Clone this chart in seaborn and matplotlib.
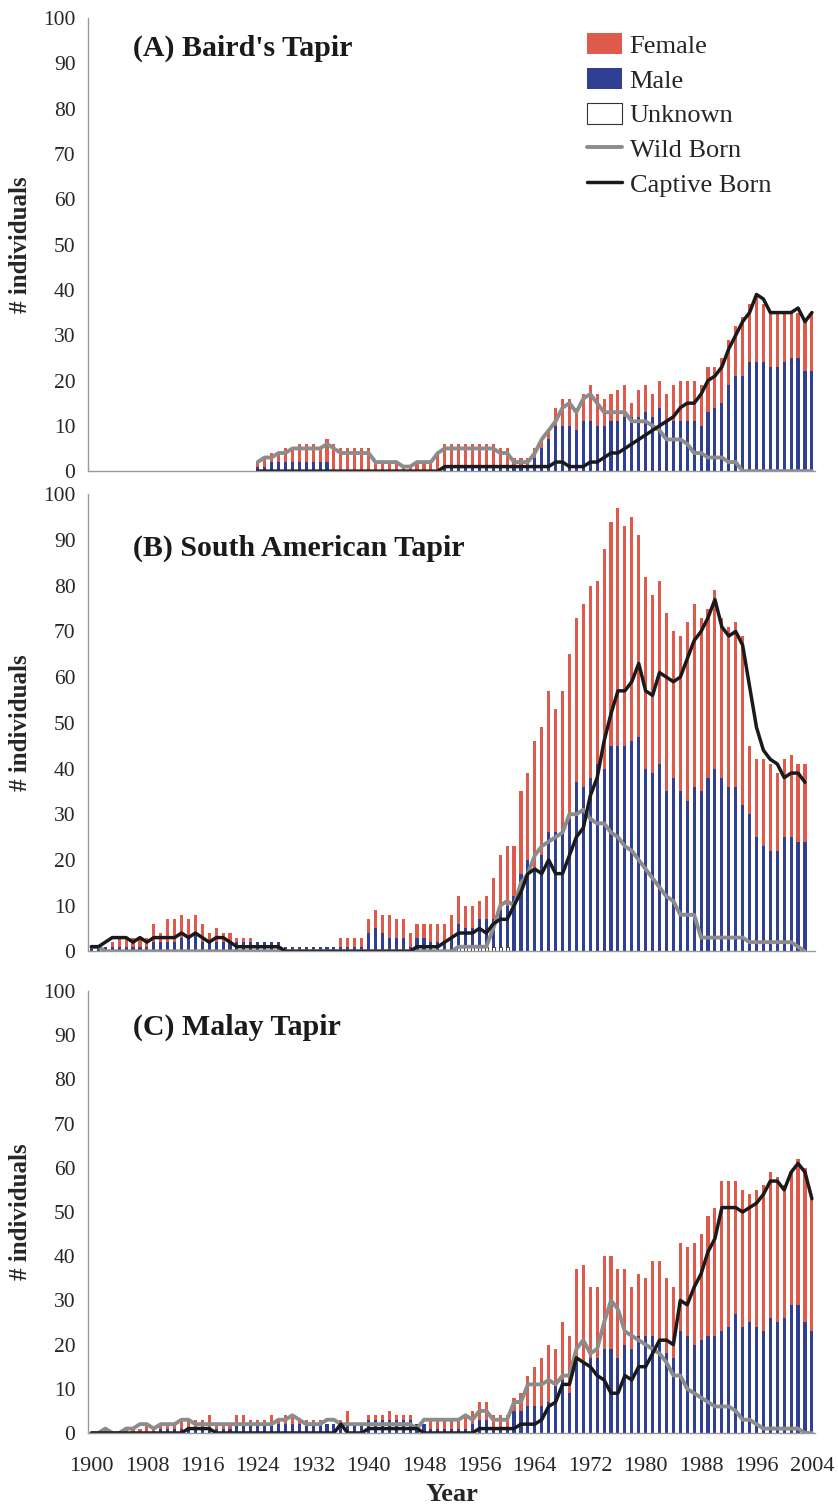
import numpy as np
import pandas as pd
import matplotlib.pyplot as plt
from matplotlib.patches import Patch
from matplotlib.lines import Line2D
import seaborn as sns

sns.set_style("white")
plt.rcParams['font.family'] = ['Liberation Serif', 'DejaVu Serif']

nan = np.nan
years = list(range(1900, 2005))

# ---- (A) Baird's tapir ----
a_total = ([0] * 20 +
           [0, 0, 0, 0, 2, 3, 4, 4, 5, 5] +
           [6, 6, 6, 5, 7, 6, 5, 5, 5, 5] +
           [5, 2, 2, 2, 2, 1, 1, 2, 2, 2] +
           [4, 6, 6, 6, 6, 6, 6, 6, 6, 5] +
           [5, 3, 3, 3, 5, 7, 9, 14, 16, 16] +
           [14, 17, 19, 17, 16, 17, 18, 19, 15, 18] +
           [19, 17, 20, 17, 19, 20, 20, 20, 19, 23] +
           [23, 25, 29, 32, 34, 37, 39, 37, 35, 35] +
           [35, 35, 35, 33, 35])
a_male = ([0] * 20 +
          [0, 0, 0, 0, 1, 1, 2, 2, 2, 2] +
          [2, 2, 2, 2, 2, 0, 0, 0, 0, 0] +
          [0] * 10 +
          [0, 1, 1, 1, 1, 1, 1, 1, 1, 1] +
          [1, 1, 1, 1, 3, 5, 7, 10, 10, 10] +
          [9, 11, 11, 10, 10, 11, 11, 12, 12, 12] +
          [13, 12, 14, 11, 11, 11, 11, 11, 10, 13] +
          [14, 15, 19, 21, 21, 24, 24, 24, 23, 23] +
          [24, 25, 25, 22, 22])
a_unknown = [0] * 105
a_wild = ([nan] * 24 +
          [2, 3, 3, 4, 4, 5] +
          [5, 5, 5, 5, 6, 5, 4, 4, 4, 4] +
          [4, 2, 2, 2, 2, 1, 1, 2, 2, 2] +
          [4, 5, 5, 5, 5, 5, 5, 5, 5, 4] +
          [4, 2, 2, 2, 4, 7, 9, 11, 14, 15] +
          [13, 16, 17, 15, 13, 13, 13, 13, 11, 11] +
          [11, 10, 9, 7, 7, 7, 6, 4, 4, 3] +
          [3, 3, 2, 2, 0, 0, 0, 0, 0, 0] +
          [0, 0, 0, 0, 0])
a_captive = ([nan] * 24 +
             [0] * 26 +
             [0, 1, 1, 1, 1, 1, 1, 1, 1, 1] +
             [1, 1, 1, 1, 1, 1, 1, 2, 2, 1] +
             [1, 1, 2, 2, 3, 4, 4, 5, 6, 7] +
             [8, 9, 10, 11, 12, 14, 15, 15, 17, 20] +
             [21, 23, 27, 30, 33, 35, 39, 38, 35, 35] +
             [35, 35, 36, 33, 35])

# ---- (B) South American tapir ----
b_total = ([1, 1, 1, 2, 3, 3, 3, 3, 3, 6] +
           [4, 7, 7, 8, 7, 8, 6, 4, 5, 4] +
           [4, 3, 3, 3, 2, 2, 2, 2, 1, 1] +
           [1, 1, 1, 1, 1, 1, 3, 3, 3, 3] +
           [7, 9, 8, 8, 7, 7, 4, 6, 6, 6] +
           [6, 6, 8, 12, 10, 10, 11, 12, 16, 21] +
           [23, 23, 35, 39, 46, 49, 57, 53, 57, 65] +
           [73, 76, 80, 81, 88, 94, 97, 93, 95, 91] +
           [82, 78, 81, 74, 70, 69, 72, 76, 73, 75] +
           [79, 73, 71, 72, 69, 45, 42, 42, 41, 39] +
           [42, 43, 41, 41, nan])
b_male = ([1, 1, 1, 1, 1, 1, 1, 1, 1, 2] +
          [2, 2, 2, 3, 3, 4, 2, 2, 2, 2] +
          [2, 2, 2, 2, 2, 2, 2, 2, 1, 1] +
          [1] * 10 +
          [4, 5, 4, 3, 3, 3, 1, 3, 3, 2] +
          [2, 2, 3, 5, 4, 4, 6, 6, 6, 8] +
          [9, 12, 17, 20, 18, 21, 26, 26, 26, 29] +
          [37, 36, 38, 41, 40, 45, 45, 45, 46, 47] +
          [40, 39, 41, 35, 38, 35, 33, 36, 35, 38] +
          [40, 38, 36, 36, 32, 30, 25, 23, 22, 22] +
          [25, 25, 24, 24, nan])
b_unknown = [0] * 53 + [1] * 8 + [0] * 44
b_wild = ([1, 1, 0, 0, 0, 0, 0, 0, 0, 0] +
          [0] * 40 +
          [0, 0, 0, 1, 1, 1, 1, 1, 5, 10] +
          [11, 10, 15, 17, 21, 23, 24, 25, 26, 30] +
          [30, 31, 29, 28, 28, 26, 25, 23, 22, 20] +
          [18, 16, 14, 12, 11, 8, 8, 8, 3, 3] +
          [3, 3, 3, 3, 3, 2, 2, 2, 2, 2] +
          [2, 2, 1, 0, nan])
b_captive = ([1, 1, 2, 3, 3, 3, 2, 3, 2, 3] +
             [3, 3, 3, 4, 3, 4, 3, 2, 3, 3] +
             [2, 1, 1, 1, 1, 1, 1, 1, 0, 0] +
             [0] * 10 +
             [0, 0, 0, 0, 0, 0, 0, 1, 1, 1] +
             [1, 2, 3, 4, 4, 4, 5, 4, 6, 7] +
             [7, 10, 13, 17, 18, 17, 20, 17, 17, 21] +
             [25, 27, 34, 38, 46, 52, 57, 57, 59, 63] +
             [57, 56, 61, 60, 59, 60, 64, 68, 70, 73] +
             [77, 71, 69, 70, 67, 58, 49, 44, 42, 41] +
             [38, 39, 39, 37, nan])

# ---- (C) Malay tapir ----
c_total = ([0, 0, 1, 0, 0, 1, 1, 1, 2, 1] +
           [2, 2, 2, 3, 3, 3, 3, 4, 2, 2] +
           [2, 4, 4, 3, 3, 3, 4, 3, 4, 4] +
           [3, 3, 3, 3, 2, 2, 3, 5, 2, 2] +
           [4, 4, 4, 5, 4, 4, 4, 2, 2, 3] +
           [3, 3, 3, 3, 4, 5, 7, 7, 4, 4] +
           [4, 8, 9, 13, 15, 17, 20, 19, 25, 22] +
           [37, 38, 33, 33, 40, 40, 37, 37, 33, 36] +
           [35, 39, 39, 35, 33, 43, 42, 43, 45, 49] +
           [51, 57, 57, 57, 55, 54, 55, 56, 59, 58] +
           [56, 59, 62, 60, 53])
c_male = ([0] * 10 +
          [1] * 10 +
          [1, 2, 2, 2, 2, 2, 2, 2, 2, 2] +
          [2] * 10 +
          [3, 3, 3, 3, 3, 3, 3, 2, 2, 1] +
          [1, 1, 1, 1, 1, 2, 3, 3, 1, 1] +
          [1, 5, 5, 6, 6, 6, 7, 11, 12, 9] +
          [16, 16, 17, 17, 19, 19, 17, 20, 19, 22] +
          [22, 22, 21, 18, 17, 23, 22, 20, 21, 22] +
          [22, 23, 24, 27, 24, 25, 24, 23, 26, 25] +
          [26, 29, 29, 25, 23])
c_unknown = [0] * 105
c_wild = ([0, 0, 1, 0, 0, 1, 1, 2, 2, 1] +
          [2, 2, 2, 3, 3, 2, 2, 2, 2, 2] +
          [2, 2, 2, 2, 2, 2, 2, 3, 3, 4] +
          [3, 2, 2, 2, 3, 3, 2, 2, 2, 2] +
          [2, 2, 2, 2, 2, 2, 2, 1, 3, 3] +
          [3, 3, 3, 3, 4, 3, 5, 5, 3, 3] +
          [3, 7, 7, 11, 11, 11, 12, 11, 13, 13] +
          [19, 21, 18, 19, 25, 30, 28, 23, 22, 21] +
          [20, 19, 18, 16, 13, 13, 10, 9, 8, 7] +
          [6, 6, 6, 5, 3, 3, 2, 1, 1, 1] +
          [1, 1, 1, 0, 0])
c_captive = ([0] * 10 +
             [0, 0, 0, 0, 1, 1, 1, 1, 0, 0] +
             [0] * 10 +
             [0, 0, 0, 0, 0, 0, 2, 0, 0, 0] +
             [1, 1, 1, 1, 1, 1, 1, 1, 0, 0] +
             [0, 0, 0, 0, 0, 0, 1, 1, 1, 1] +
             [1, 1, 2, 2, 2, 3, 6, 7, 11, 11] +
             [17, 16, 15, 13, 12, 9, 9, 13, 12, 15] +
             [15, 18, 21, 21, 20, 30, 29, 33, 36, 41] +
             [44, 51, 51, 51, 50, 51, 52, 54, 57, 57] +
             [55, 59, 61, 59, 53])

female_color = '#e05a4b'
male_color = '#2f3f92'
wild_color = '#8c8c8c'
captive_color = '#1a1a1a'

panels = [
    ("(A) Baird's Tapir", a_total, a_male, a_unknown, a_wild, a_captive, 0.934),
    ("(B) South American Tapir", b_total, b_male, b_unknown, b_wild, b_captive, 0.882),
    ("(C) Malay Tapir", c_total, c_male, c_unknown, c_wild, c_captive, 0.918),
]
# axes boxes in figure fractions (left, bottom, width, height)
boxes = [(0.105, 0.688, 0.868, 0.300),
         (0.105, 0.370, 0.868, 0.3026),
         (0.105, 0.051, 0.868, 0.2927)]

fig = plt.figure(figsize=(8.38, 15.10), dpi=100)
pos = np.arange(len(years))

for i, (title, total, male, unknown, wild, captive, ty) in enumerate(panels):
    ax = fig.add_axes(boxes[i])
    df = pd.DataFrame({'Year': years, 'Total': total, 'Male': male,
                       'Unknown': unknown, 'Wild': wild, 'Captive': captive})
    df['MaleCum'] = df['Male'] + df['Unknown']

    # stacked bars drawn by overlapping cumulative heights
    sns.barplot(data=df, x='Year', y='Total', order=years, color=female_color,
                saturation=1, width=0.45, linewidth=0, errorbar=None, ax=ax)
    sns.barplot(data=df, x='Year', y='MaleCum', order=years, color=male_color,
                saturation=1, width=0.45, linewidth=0, errorbar=None, ax=ax)
    unk = df['Unknown'].where(df['Unknown'] > 0)
    sns.barplot(x=df['Year'], y=unk, order=years, color='white', saturation=1,
                width=0.45, edgecolor='#333333', linewidth=0.6, errorbar=None, ax=ax)

    sns.lineplot(x=pos, y=df['Wild'].values, color=wild_color, linewidth=2.8, ax=ax)
    sns.lineplot(x=pos, y=df['Captive'].values, color=captive_color, linewidth=2.5, ax=ax)

    ax.set_xlim(-0.5, len(years) - 0.5)
    ax.set_ylim(0, 100)
    ax.set_yticks(range(0, 101, 10))
    ax.tick_params(axis='y', labelsize=15.5, length=5, color='#999999', pad=4)

    label_pos = pos[::8]
    ax.set_xticks(label_pos)
    if i == 2:
        ax.set_xticklabels([str(years[k]) for k in label_pos], fontsize=16)
        ax.set_xlabel('Year', fontsize=19, fontweight='bold', labelpad=5)
    else:
        ax.set_xticklabels([])
        ax.set_xlabel('')
    ax.set_xticks(np.arange(-0.5, len(years), 1), minor=True)
    ax.tick_params(axis='x', which='major', length=0, pad=17)
    ax.tick_params(axis='x', which='minor', length=5, color='#999999', width=0.8)

    ax.set_ylabel('# individuals', fontsize=18, fontweight='bold', labelpad=8)
    sns.despine(ax=ax)
    for s in ['left', 'bottom']:
        ax.spines[s].set_color('#999999')
        ax.spines[s].set_linewidth(1)

    ax.text(0.062, ty, title, transform=ax.transAxes, fontsize=21.5,
            fontweight='bold', va='center', ha='left', color='#1a1a1a')

    if i == 0:
        handles = [Patch(facecolor=female_color, edgecolor='none'),
                   Patch(facecolor=male_color, edgecolor='none'),
                   Patch(facecolor='white', edgecolor='#333333', linewidth=0.8),
                   Line2D([0], [0], color=wild_color, linewidth=2.8),
                   Line2D([0], [0], color=captive_color, linewidth=2.5)]
        ax.legend(handles, ['Female', 'Male', 'Unknown', 'Wild Born', 'Captive Born'],
                  loc='upper left', bbox_to_anchor=(0.672, 0.99), frameon=False,
                  fontsize=19, handlelength=1.3, handleheight=0.85,
                  handletextpad=0.3, labelspacing=0.38, borderaxespad=0)
    elif ax.get_legend() is not None:
        ax.get_legend().remove()

fig.savefig('out.png', dpi=100)
